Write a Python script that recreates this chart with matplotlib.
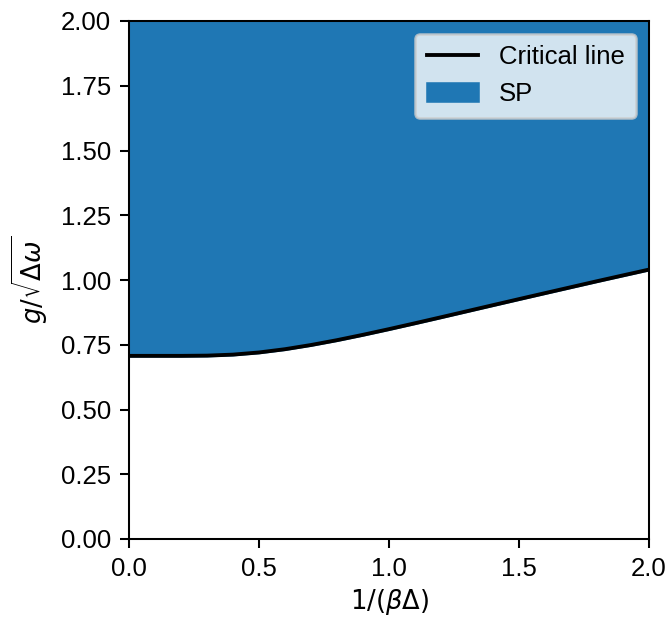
import matplotlib
matplotlib.use("Agg")
import matplotlib.pyplot as plt
import numpy as np

plt.rcParams['font.family'] = ['Liberation Sans', 'DejaVu Sans']
plt.rcParams['mathtext.fontset'] = 'dejavusans'

# critical coupling, x = 1/(beta*Delta)
temp = [0.0, 0.1, 0.2, 0.3, 0.4, 0.5, 0.6, 0.7, 0.8, 0.9, 1.0,
        1.1, 1.2, 1.3, 1.4, 1.5, 1.6, 1.7, 1.8, 1.9, 2.0]
g_crit = [0.7071, 0.7071, 0.7071, 0.7080, 0.7119, 0.7202, 0.7328, 0.7490,
          0.7677, 0.7884, 0.8103, 0.8330, 0.8561, 0.8795, 0.9029, 0.9262,
          0.9493, 0.9723, 0.9953, 1.0178, 1.0402]
g_top = 2.0

fig = plt.figure(figsize=(671 / 185, 619 / 185), dpi=185)
ax = fig.add_axes([129 / 671, 1 - 539 / 619, 520 / 671, 518 / 619])

line, = ax.plot(temp, g_crit, color='black', lw=1.5, label='Critical line', zorder=3)
fill = ax.fill_between(temp, g_crit, g_top, color='#1f77b4', label='SP', zorder=2)

ax.set_xlim(0, 2)
ax.set_ylim(0, 2)
ax.set_xticks(np.arange(0, 2.01, 0.5))
ax.set_yticks(np.arange(0, 2.01, 0.25))
ax.set_xticklabels(['0.0', '0.5', '1.0', '1.5', '2.0'])
ax.set_yticklabels(['0.00', '0.25', '0.50', '0.75', '1.00', '1.25', '1.50', '1.75', '2.00'])
ax.set_xlabel(r'$1/(\beta\Delta)$', labelpad=2.5)
ax.set_ylabel(r'$g/\sqrt{\Delta\omega}$')
ax.legend(handles=[line, fill], loc='upper right', borderpad=0.45)

fig.savefig('out.png', dpi=185)
